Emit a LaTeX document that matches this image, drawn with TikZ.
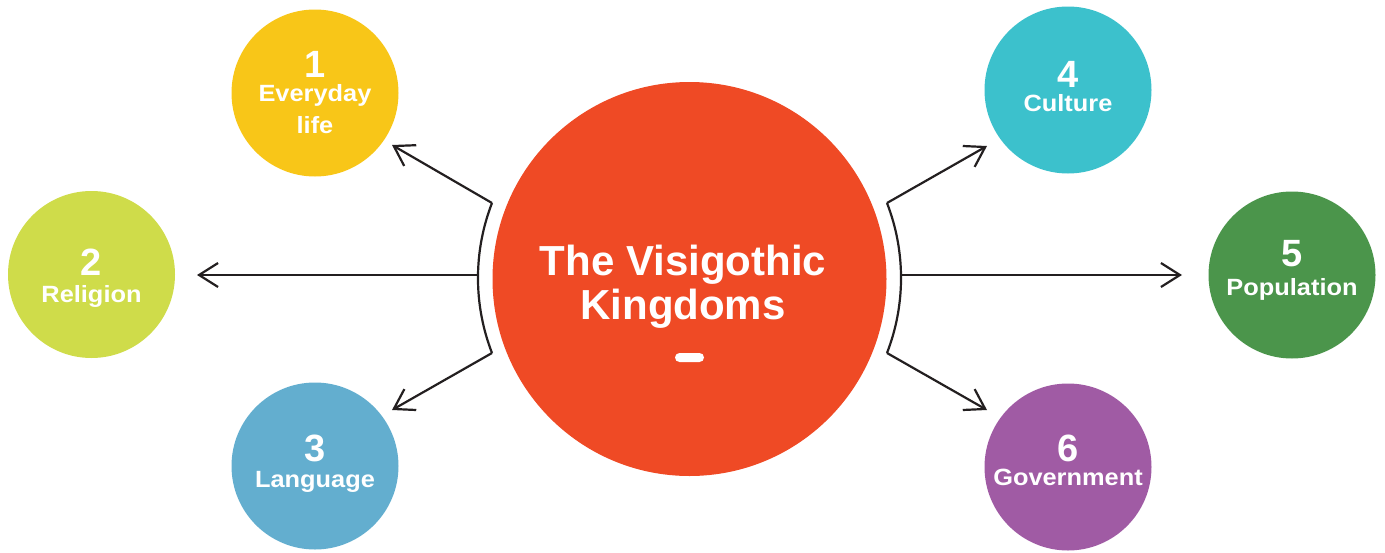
\documentclass[tikz,border=0pt]{standalone}
\usepackage{fontspec}
\setmainfont{Liberation Sans}
\newfontfamily\labelfont[FakeStretch=1.08]{Liberation Sans}
\usetikzlibrary{arrows.meta}
\definecolor{hubred}{HTML}{EF4A25}
\definecolor{cyellow}{HTML}{F8C618}
\definecolor{clime}{HTML}{CFDC4A}
\definecolor{cblue}{HTML}{63AECF}
\definecolor{ccyan}{HTML}{3CC1CC}
\definecolor{cgreen}{HTML}{4B954B}
\definecolor{cpurple}{HTML}{A05BA4}
\definecolor{linec}{HTML}{231F20}
\begin{document}
\begin{tikzpicture}[x=1pt,y=-1pt,
  bubble/.style={circle, inner sep=0pt, minimum size=167pt},
  num/.style={text=white, font=\fontsize{38}{38}\selectfont\bfseries, anchor=base, inner sep=0pt},
  lbl/.style={text=white, font=\labelfont\fontsize{23.5}{23.5}\selectfont\bfseries, anchor=base, inner sep=0pt},
  title/.style={text=white, font=\fontsize{42}{42}\selectfont\bfseries, anchor=base, inner sep=0pt},
  link/.style={draw=linec, line width=2.2pt, -{Straight Barb[length=19pt,width=24pt]}},
  brace/.style={draw=linec, line width=2.2pt}]
\useasboundingbox (0,0) rectangle (1385,552);

% central hub
\node[bubble, fill=hubred, minimum size=394pt] (hub) at (689.5,279) {};
\node[title] (t1) at (683,275) {The Visigothic};
\node[title] (t2) at (683,319) {Kingdoms};
\node[fill=white, rounded corners=4.5pt, minimum width=29pt, minimum height=9pt, inner sep=0pt] (dash) at (689.5,357.5) {};

% topic bubbles
\node[bubble, fill=cyellow] (c1) at (315,93) {};
\node[bubble, fill=clime]   (c2) at (91.5,274.5) {};
\node[bubble, fill=cblue]   (c3) at (315,466) {};
\node[bubble, fill=ccyan]   (c4) at (1068,90) {};
\node[bubble, fill=cgreen]  (c5) at (1292,275) {};
\node[bubble, fill=cpurple] (c6) at (1068,467) {};

% bubble texts
\node[num] (n1) at (315,77) {1};
\node[lbl] (l1a) at (315,101) {Everyday};
\node[lbl] (l1b) at (315,133) {life};
\node[num] (n2) at (91.5,275) {2};
\node[lbl] (l2) at (91.5,302) {Religion};
\node[num] (n3) at (315,461) {3};
\node[lbl] (l3) at (315,487) {Language};
\node[num] (n4) at (1068,87) {4};
\node[lbl] (l4) at (1068,111) {Culture};
\node[num] (n5) at (1292,266) {5};
\node[lbl] (l5) at (1292,295) {Population};
\node[num] (n6) at (1068,461) {6};
\node[lbl] (l6) at (1068,485) {Government};

% bracket end points and arrow targets
\coordinate (lt) at (492,203);
\coordinate (lm) at (478,275);
\coordinate (lb) at (492,353);
\coordinate (rt) at (887,203);
\coordinate (rm) at (901,275);
\coordinate (rb) at (887,353);
\coordinate (a1) at (392,145);
\coordinate (a2) at (197,275);
\coordinate (a3) at (392,410);
\coordinate (a4) at (987,146);
\coordinate (a5) at (1182,275);
\coordinate (a6) at (987,410);

% brackets around the hub (circular arcs concentric with it)
\draw[brace] (lt) .. controls (473.3,251.3) and (473.3,304.7) .. (lb);
\draw[brace] (rt) .. controls (905.7,251.3) and (905.7,304.7) .. (rb);

% connectors
\draw[link] (lt) -- (a1);
\draw[link] (lm) -- (a2);
\draw[link] (lb) -- (a3);
\draw[link] (rt) -- (a4);
\draw[link] (rm) -- (a5);
\draw[link] (rb) -- (a6);
\end{tikzpicture}
\end{document}
